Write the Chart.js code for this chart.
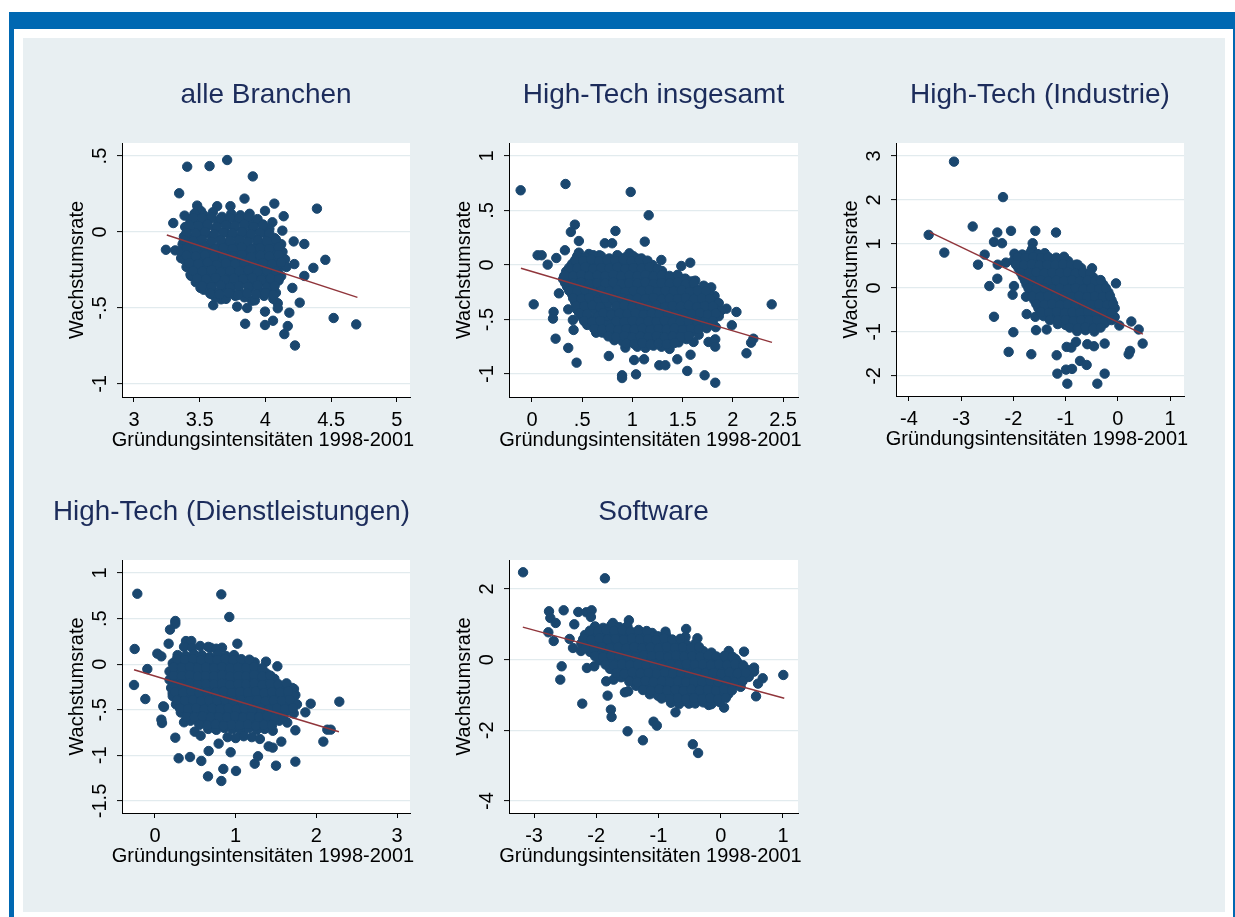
<!DOCTYPE html>
<html><head><meta charset="utf-8">
<script src="https://cdn.jsdelivr.net/npm/chart.js@4.4.1/dist/chart.umd.min.js"></script>
<style>
html,body{margin:0;padding:0;background:#fff;width:1235px;height:917px;overflow:hidden;position:relative;}
.abs{position:absolute;}
</style></head><body>
<div class="abs" style="left:9px;top:12px;width:1226px;height:17px;background:#0068b2"></div>
<div class="abs" style="left:9px;top:12px;width:5px;height:905px;background:#0068b2"></div>
<div class="abs" style="left:1233px;top:12px;width:2px;height:905px;background:#0068b2"></div>
<div class="abs" style="left:23px;top:38px;width:1202px;height:874px;background:#e8eff2"></div>
<canvas id="c1" class="abs"></canvas>
<canvas id="c2" class="abs"></canvas>
<canvas id="c3" class="abs"></canvas>
<canvas id="c4" class="abs"></canvas>
<canvas id="c5" class="abs"></canvas>
<script>
// ---------- titles ----------
const panelTitles = ['alle Branchen', 'High-Tech insgesamt', 'High-Tech (Industrie)', 'High-Tech (Dienstleistungen)', 'Software'];
const xAxisTitle = 'Gründungsintensitäten 1998-2001';
const yAxisTitle = 'Wachstumsrate';

// ---------- tick values / labels ----------
const p1XTicks = [3, 3.5, 4, 4.5, 5];           const p1XLabels = ['3', '3.5', '4', '4.5', '5'];
const p1YTicks = [-1, -0.5, 0, 0.5];            const p1YLabels = ['-1', '-.5', '0', '.5'];
const p2XTicks = [0, 0.5, 1, 1.5, 2, 2.5];      const p2XLabels = ['0', '.5', '1', '1.5', '2', '2.5'];
const p2YTicks = [-1, -0.5, 0, 0.5, 1];         const p2YLabels = ['-1', '-.5', '0', '.5', '1'];
const p3XTicks = [-4, -3, -2, -1, 0, 1];        const p3XLabels = ['-4', '-3', '-2', '-1', '0', '1'];
const p3YTicks = [-2, -1, 0, 1, 2, 3];          const p3YLabels = ['-2', '-1', '0', '1', '2', '3'];
const p4XTicks = [0, 1, 2, 3];                  const p4XLabels = ['0', '1', '2', '3'];
const p4YTicks = [-1.5, -1, -0.5, 0, 0.5, 1];   const p4YLabels = ['-1.5', '-1', '-.5', '0', '.5', '1'];
const p5XTicks = [-3, -2, -1, 0, 1];            const p5XLabels = ['-3', '-2', '-1', '0', '1'];
const p5YTicks = [-4, -2, 0, 2];                const p5YLabels = ['-4', '-2', '0', '2'];

// ---------- regression lines (endpoints) ----------
const p1Fit = [[3.25, -0.02], [4.70, -0.43]];
const p2Fit = [[-0.11, -0.03], [2.39, -0.71]];
const p3Fit = [[-3.60, 1.27], [0.48, -1.05]];
const p4Fit = [[-0.26, -0.06], [2.28, -0.74]];
const p5Fit = [[-3.18, 0.92], [1.02, -1.09]];

// ---------- scatter points [x, y] ----------
const p1Points = [
[3.405,0.430],[3.575,0.434],[3.709,0.474],[3.904,0.366],[3.344,0.255],[3.841,0.220],[4.068,0.187],[4.392,0.154],
[3.997,0.139],[4.139,0.104],[3.481,0.174],[3.385,0.108],[3.299,0.059],[3.390,0.033],[4.053,0.064],[4.129,0.009],
[4.215,-0.062],[4.296,-0.079],[3.243,-0.117],[3.314,-0.121],[4.456,-0.183],[4.365,-0.236],[4.220,-0.211],[4.296,-0.289],
[4.205,-0.368],[4.261,-0.465],[4.519,-0.566],[4.691,-0.608],[3.846,-0.604],[3.997,-0.612],[3.785,-0.491],[3.861,-0.500],
[3.899,-0.452],[4.225,-0.747],[4.144,-0.672],[4.170,-0.619],[4.182,-0.531],[4.094,-0.469],[4.094,-0.502],[3.997,-0.524],
[4.058,-0.584],[3.603,-0.482],[3.587,-0.407],[3.663,-0.443],[3.506,-0.368],[3.435,-0.289],[3.359,-0.172],[3.734,0.170],
[3.633,0.170],[3.486,0.152],[3.511,0.137],
[3.46,0.12],[3.53,0.11],[3.60,0.13],[3.67,0.10],[3.74,0.12],[3.81,0.11],[3.88,0.12],
[3.43,0.07],[3.50,0.06],[3.57,0.08],[3.64,0.07],[3.71,0.05],[3.78,0.08],[3.85,0.06],[3.92,0.07],[3.98,0.05],
[3.41,0.02],[3.48,0.01],[3.55,0.03],[3.62,0.02],[3.69,0.00],[3.76,0.03],[3.83,0.01],[3.90,0.02],[3.97,0.00],[4.03,0.02],
[3.38,-0.03],[3.45,-0.04],[3.52,-0.02],[3.59,-0.03],[3.66,-0.05],[3.73,-0.02],[3.80,-0.04],[3.87,-0.03],[3.94,-0.05],[4.01,-0.02],[4.07,-0.04],
[3.37,-0.08],[3.44,-0.09],[3.51,-0.07],[3.58,-0.08],[3.65,-0.10],[3.72,-0.07],[3.79,-0.09],[3.86,-0.08],[3.93,-0.10],[4.00,-0.07],[4.07,-0.09],[4.12,-0.08],
[3.36,-0.13],[3.43,-0.14],[3.50,-0.12],[3.57,-0.13],[3.64,-0.15],[3.71,-0.12],[3.78,-0.14],[3.85,-0.13],[3.92,-0.15],[3.99,-0.12],[4.06,-0.14],[4.13,-0.13],
[3.38,-0.18],[3.45,-0.19],[3.52,-0.17],[3.59,-0.18],[3.66,-0.20],[3.73,-0.17],[3.80,-0.19],[3.87,-0.18],[3.94,-0.20],[4.01,-0.17],[4.08,-0.19],[4.15,-0.18],
[3.40,-0.23],[3.47,-0.24],[3.54,-0.22],[3.61,-0.23],[3.68,-0.25],[3.75,-0.22],[3.82,-0.24],[3.89,-0.23],[3.96,-0.25],[4.03,-0.22],[4.10,-0.24],[4.16,-0.23],
[3.43,-0.28],[3.50,-0.29],[3.57,-0.27],[3.64,-0.28],[3.71,-0.30],[3.78,-0.27],[3.85,-0.29],[3.92,-0.28],[3.99,-0.30],[4.06,-0.27],[4.12,-0.29],
[3.47,-0.33],[3.54,-0.34],[3.61,-0.32],[3.68,-0.33],[3.75,-0.35],[3.82,-0.32],[3.89,-0.34],[3.96,-0.33],[4.03,-0.35],[4.10,-0.32],
[3.53,-0.38],[3.60,-0.39],[3.67,-0.37],[3.74,-0.38],[3.81,-0.40],[3.88,-0.37],[3.95,-0.39],[4.02,-0.38],[4.08,-0.40],
[3.62,-0.43],[3.70,-0.44],[3.77,-0.42],[3.84,-0.43],[3.92,-0.45],[3.99,-0.42],[4.06,-0.44],
[3.45,0.095],[3.52,0.09],[3.59,0.10],[3.66,0.085],[3.73,0.095],[3.80,0.09],[3.87,0.10],[3.94,0.085],
[3.42,0.045],[3.49,0.04],[3.56,0.05],[3.63,0.035],[3.70,0.045],[3.77,0.04],[3.84,0.05],[3.91,0.035],[3.98,0.045],
[3.40,-0.005],[3.47,-0.01],[3.54,0.00],[3.61,-0.015],[3.68,-0.005],[3.75,-0.01],[3.82,0.00],[3.89,-0.015],[3.96,-0.005],[4.03,-0.01],
[3.38,-0.055],[3.45,-0.06],[3.52,-0.05],[3.59,-0.065],[3.66,-0.055],[3.73,-0.06],[3.80,-0.05],[3.87,-0.065],[3.94,-0.055],[4.01,-0.06],[4.08,-0.05],
[3.40,-0.105],[3.47,-0.11],[3.54,-0.10],[3.61,-0.115],[3.68,-0.105],[3.75,-0.11],[3.82,-0.10],[3.89,-0.115],[3.96,-0.105],[4.03,-0.11],[4.10,-0.10],
[3.40,-0.155],[3.47,-0.16],[3.54,-0.15],[3.61,-0.165],[3.68,-0.155],[3.75,-0.16],[3.82,-0.15],[3.89,-0.165],[3.96,-0.155],[4.03,-0.16],[4.10,-0.15],
[3.42,-0.205],[3.49,-0.21],[3.56,-0.20],[3.63,-0.215],[3.70,-0.205],[3.77,-0.21],[3.84,-0.20],[3.91,-0.215],[3.98,-0.205],[4.05,-0.21],[4.12,-0.20],
[3.45,-0.255],[3.52,-0.26],[3.59,-0.25],[3.66,-0.265],[3.73,-0.255],[3.80,-0.26],[3.87,-0.25],[3.94,-0.265],[4.01,-0.255],[4.08,-0.26],
[3.48,-0.305],[3.55,-0.31],[3.62,-0.30],[3.69,-0.315],[3.76,-0.305],[3.83,-0.31],[3.90,-0.30],[3.97,-0.315],[4.04,-0.305],[4.10,-0.31],
[3.52,-0.355],[3.59,-0.36],[3.66,-0.35],[3.73,-0.365],[3.80,-0.355],[3.87,-0.36],[3.94,-0.35],[4.01,-0.365],[4.07,-0.355],
[3.58,-0.405],[3.65,-0.41],[3.72,-0.40],[3.79,-0.415],[3.86,-0.405],[3.93,-0.41],[4.00,-0.40],[4.06,-0.415]
];

const p2Points = [
[-0.113,0.685],[0.334,0.743],[0.983,0.670],[1.162,0.456],[0.427,0.370],[0.387,0.303],[0.467,0.220],[0.831,0.312],
[0.725,0.199],[0.798,0.199],[1.123,0.214],[0.056,0.089],[0.096,0.089],[0.156,0.003],[0.328,0.135],[0.242,0.064],
[1.288,0.046],[1.295,-0.055],[1.487,-0.009],[1.576,0.021],[0.017,-0.361],[0.268,-0.260],[0.321,-0.101],[0.215,-0.431],
[0.209,-0.492],[0.361,-0.407],[0.407,-0.505],[0.414,-0.596],[0.235,-0.676],[0.361,-0.761],[0.444,-0.896],[0.765,-0.835],
[0.897,-1.012],[0.897,-1.037],[1.036,-1.003],[1.017,-0.872],[1.116,-0.865],[1.268,-0.920],[1.328,-0.920],[1.447,-0.865],
[1.546,-0.972],[1.719,-1.012],[1.825,-1.080],[1.579,-0.823],[1.609,-0.706],[1.758,-0.706],[1.825,-0.682],[1.825,-0.749],
[2.136,-0.810],[2.182,-0.713],[2.205,-0.676],[2.387,-0.361],[1.937,-0.401],[2.036,-0.431],[1.990,-0.553],[1.785,-0.205],
[1.818,-0.284],[1.841,-0.346],[1.626,-0.144],[1.526,-0.125],[1.394,-0.162],[0.649,-0.437],[0.639,-0.621],[0.930,-0.758],
[0.566,0.101],[0.467,0.113],[0.970,0.107],[1.050,0.058],[0.672,0.089],[0.857,0.077],
[0.45,0.08],[0.53,0.07],[0.61,0.09],[0.69,0.08],[0.77,0.06],[0.85,0.09],[0.93,0.07],[1.01,0.08],[1.09,0.06],
[0.40,0.01],[0.48,0.00],[0.56,0.02],[0.64,0.01],[0.72,-0.01],[0.80,0.02],[0.88,0.00],[0.96,0.01],[1.04,-0.01],[1.12,0.02],[1.20,0.00],
[0.34,-0.06],[0.42,-0.07],[0.50,-0.05],[0.58,-0.06],[0.66,-0.08],[0.74,-0.05],[0.82,-0.07],[0.90,-0.06],[0.98,-0.08],[1.06,-0.05],[1.14,-0.07],[1.22,-0.06],[1.30,-0.08],
[0.31,-0.13],[0.39,-0.14],[0.47,-0.12],[0.55,-0.13],[0.63,-0.15],[0.71,-0.12],[0.79,-0.14],[0.87,-0.13],[0.95,-0.15],[1.03,-0.12],[1.11,-0.14],[1.19,-0.13],[1.27,-0.15],[1.35,-0.12],[1.43,-0.14],[1.51,-0.13],[1.59,-0.15],
[0.35,-0.20],[0.43,-0.21],[0.51,-0.19],[0.59,-0.20],[0.67,-0.22],[0.75,-0.19],[0.83,-0.21],[0.91,-0.20],[0.99,-0.22],[1.07,-0.19],[1.15,-0.21],[1.23,-0.20],[1.31,-0.22],[1.39,-0.19],[1.47,-0.21],[1.55,-0.20],[1.63,-0.22],[1.71,-0.19],
[0.40,-0.27],[0.48,-0.28],[0.56,-0.26],[0.64,-0.27],[0.72,-0.29],[0.80,-0.26],[0.88,-0.28],[0.96,-0.27],[1.04,-0.29],[1.12,-0.26],[1.20,-0.28],[1.28,-0.27],[1.36,-0.29],[1.44,-0.26],[1.52,-0.28],[1.60,-0.27],[1.68,-0.29],[1.76,-0.26],
[0.43,-0.34],[0.51,-0.35],[0.59,-0.33],[0.67,-0.34],[0.75,-0.36],[0.83,-0.33],[0.91,-0.35],[0.99,-0.34],[1.07,-0.36],[1.15,-0.33],[1.23,-0.35],[1.31,-0.34],[1.39,-0.36],[1.47,-0.33],[1.55,-0.35],[1.63,-0.34],[1.71,-0.36],[1.79,-0.33],[1.86,-0.35],
[0.45,-0.41],[0.53,-0.42],[0.61,-0.40],[0.69,-0.41],[0.77,-0.43],[0.85,-0.40],[0.93,-0.42],[1.01,-0.41],[1.09,-0.43],[1.17,-0.40],[1.25,-0.42],[1.33,-0.41],[1.41,-0.43],[1.49,-0.40],[1.57,-0.42],[1.65,-0.41],[1.73,-0.43],[1.81,-0.40],[1.88,-0.42],
[0.50,-0.48],[0.58,-0.49],[0.66,-0.47],[0.74,-0.48],[0.82,-0.50],[0.90,-0.47],[0.98,-0.49],[1.06,-0.48],[1.14,-0.50],[1.22,-0.47],[1.30,-0.49],[1.38,-0.48],[1.46,-0.50],[1.54,-0.47],[1.62,-0.49],[1.70,-0.48],[1.78,-0.50],[1.86,-0.47],
[0.55,-0.55],[0.63,-0.56],[0.71,-0.54],[0.79,-0.55],[0.87,-0.57],[0.95,-0.54],[1.03,-0.56],[1.11,-0.55],[1.19,-0.57],[1.27,-0.54],[1.35,-0.56],[1.43,-0.55],[1.51,-0.57],[1.59,-0.54],[1.67,-0.56],[1.75,-0.55],[1.83,-0.57],
[0.70,-0.62],[0.78,-0.63],[0.86,-0.61],[0.94,-0.62],[1.02,-0.64],[1.10,-0.61],[1.18,-0.63],[1.26,-0.62],[1.34,-0.64],[1.42,-0.61],[1.50,-0.63],[1.58,-0.62],[1.66,-0.64],
[0.82,-0.69],[0.90,-0.70],[0.98,-0.68],[1.06,-0.69],[1.14,-0.71],[1.22,-0.68],[1.30,-0.70],[1.38,-0.69],[1.46,-0.71],[1.54,-0.68],
[1.05,-0.75],[1.13,-0.76],[1.21,-0.74],[1.29,-0.75],[1.37,-0.77],
[0.43,0.045],[0.51,0.04],[0.59,0.05],[0.67,0.035],[0.75,0.045],[0.83,0.04],[0.91,0.05],[0.99,0.035],[1.07,0.045],[1.15,0.04],
[0.37,-0.025],[0.45,-0.03],[0.53,-0.02],[0.61,-0.035],[0.69,-0.025],[0.77,-0.03],[0.85,-0.02],[0.93,-0.035],[1.01,-0.025],[1.09,-0.03],[1.17,-0.02],[1.25,-0.035],
[0.33,-0.095],[0.41,-0.10],[0.49,-0.09],[0.57,-0.105],[0.65,-0.095],[0.73,-0.10],[0.81,-0.09],[0.89,-0.105],[0.97,-0.095],[1.05,-0.10],[1.13,-0.09],[1.21,-0.105],[1.29,-0.095],[1.37,-0.10],[1.45,-0.09],
[0.33,-0.165],[0.41,-0.17],[0.49,-0.16],[0.57,-0.175],[0.65,-0.165],[0.73,-0.17],[0.81,-0.16],[0.89,-0.175],[0.97,-0.165],[1.05,-0.17],[1.13,-0.16],[1.21,-0.175],[1.29,-0.165],[1.37,-0.17],[1.45,-0.16],[1.53,-0.175],[1.61,-0.165],
[0.37,-0.235],[0.45,-0.24],[0.53,-0.23],[0.61,-0.245],[0.69,-0.235],[0.77,-0.24],[0.85,-0.23],[0.93,-0.245],[1.01,-0.235],[1.09,-0.24],[1.17,-0.23],[1.25,-0.245],[1.33,-0.235],[1.41,-0.24],[1.49,-0.23],[1.57,-0.245],[1.65,-0.235],[1.73,-0.24],
[0.41,-0.305],[0.49,-0.31],[0.57,-0.30],[0.73,-0.305],[0.81,-0.31],[0.89,-0.30],[0.97,-0.315],[1.05,-0.305],[1.13,-0.31],[1.21,-0.30],[1.29,-0.315],[1.37,-0.305],[1.45,-0.31],[1.53,-0.30],[1.61,-0.315],[1.69,-0.305],[1.77,-0.31],
[0.44,-0.375],[0.52,-0.38],[0.60,-0.37],[0.68,-0.385],[0.84,-0.38],[0.92,-0.37],[1.00,-0.385],[1.08,-0.375],[1.16,-0.38],[1.24,-0.37],[1.32,-0.385],[1.40,-0.375],[1.48,-0.38],[1.56,-0.37],[1.64,-0.385],[1.72,-0.375],[1.80,-0.38],
[0.47,-0.445],[0.55,-0.45],[0.71,-0.44],[0.79,-0.455],[0.87,-0.445],[0.95,-0.45],[1.03,-0.44],[1.11,-0.455],[1.19,-0.445],[1.27,-0.45],[1.35,-0.44],[1.43,-0.455],[1.51,-0.445],[1.59,-0.45],[1.67,-0.44],[1.75,-0.455],[1.83,-0.445],
[0.52,-0.515],[0.60,-0.52],[0.68,-0.51],[0.84,-0.515],[0.92,-0.52],[1.00,-0.51],[1.08,-0.525],[1.16,-0.515],[1.24,-0.52],[1.32,-0.51],[1.40,-0.525],[1.48,-0.515],[1.56,-0.52],[1.64,-0.51],[1.72,-0.525],[1.80,-0.515],
[0.62,-0.585],[0.70,-0.59],[0.78,-0.58],[0.86,-0.595],[0.94,-0.585],[1.02,-0.59],[1.10,-0.58],[1.18,-0.595],[1.26,-0.585],[1.34,-0.59],[1.42,-0.58],[1.50,-0.595],[1.58,-0.585],[1.66,-0.59],[1.74,-0.58],
[0.76,-0.655],[0.84,-0.66],[0.92,-0.65],[1.00,-0.665],[1.08,-0.655],[1.16,-0.66],[1.24,-0.65],[1.32,-0.665],[1.40,-0.655],[1.48,-0.66],[1.56,-0.65],
[0.94,-0.72],[1.02,-0.725],[1.10,-0.715],[1.18,-0.73],[1.26,-0.72],[1.34,-0.725],[1.42,-0.715]
];

const p3Points = [
[-3.138,2.871],[-2.199,2.065],[-3.623,1.207],[-3.323,0.804],[-2.780,1.397],[-2.308,1.260],[-2.046,1.298],[-1.580,1.298],
[-1.184,1.260],[-2.372,1.047],[-2.218,1.017],[-2.550,0.758],[-2.678,0.530],[-2.301,0.530],[-2.142,0.576],[-2.308,0.211],
[-2.461,0.044],[-1.989,0.044],[-2.015,-0.154],[-1.759,-0.199],[-2.372,-0.655],[-2.001,-1.005],[-2.091,-1.453],[-1.657,-1.506],
[-1.171,-1.529],[-1.746,-0.594],[-1.580,-0.655],[-1.567,-0.959],[-1.363,-0.944],[-0.980,-1.339],[-0.890,-1.354],[-0.801,-1.225],
[-0.584,-1.278],[-0.456,-1.324],[-0.252,-1.263],[-1.158,-1.947],[-0.967,-2.175],[-0.992,-1.856],[-0.877,-1.840],[-0.724,-1.658],
[-0.597,-1.749],[-0.392,-2.175],[-0.252,-1.947],[0.208,-1.506],[0.234,-1.430],[0.476,-1.263],[0.400,-0.944],[0.259,-0.762],
[0.029,-0.853],[-0.035,0.105],[-0.494,0.447],[-1.631,1.017],[-1.644,0.880],[-1.950,0.713],[-0.801,0.530],
[-1.98,0.78],[-1.83,0.76],[-1.68,0.80],[-1.53,0.77],[-1.40,0.79],
[-2.00,0.62],[-1.85,0.60],[-1.70,0.64],[-1.55,0.61],[-1.40,0.63],[-1.25,0.60],[-1.10,0.64],[-0.95,0.61],
[-1.90,0.44],[-1.75,0.42],[-1.60,0.46],[-1.45,0.43],[-1.30,0.45],[-1.15,0.42],[-1.00,0.46],[-0.85,0.43],[-0.70,0.45],
[-1.82,0.26],[-1.67,0.24],[-1.52,0.28],[-1.37,0.25],[-1.22,0.27],[-1.07,0.24],[-0.92,0.28],[-0.77,0.25],[-0.62,0.27],[-0.47,0.24],
[-1.75,0.08],[-1.60,0.06],[-1.45,0.10],[-1.30,0.07],[-1.15,0.09],[-1.00,0.06],[-0.85,0.10],[-0.70,0.07],[-0.55,0.09],[-0.40,0.06],[-0.28,0.08],
[-1.68,-0.10],[-1.53,-0.12],[-1.38,-0.08],[-1.23,-0.11],[-1.08,-0.09],[-0.93,-0.12],[-0.78,-0.08],[-0.63,-0.11],[-0.48,-0.09],[-0.33,-0.12],[-0.18,-0.10],
[-1.60,-0.28],[-1.45,-0.30],[-1.30,-0.26],[-1.15,-0.29],[-1.00,-0.27],[-0.85,-0.30],[-0.70,-0.26],[-0.55,-0.29],[-0.40,-0.27],[-0.25,-0.30],[-0.12,-0.28],
[-1.52,-0.46],[-1.37,-0.48],[-1.22,-0.44],[-1.07,-0.47],[-0.92,-0.45],[-0.77,-0.48],[-0.62,-0.44],[-0.47,-0.47],[-0.32,-0.45],[-0.17,-0.48],[-0.06,-0.46],
[-1.42,-0.64],[-1.27,-0.66],[-1.12,-0.62],[-0.97,-0.65],[-0.82,-0.63],[-0.67,-0.66],[-0.52,-0.62],[-0.37,-0.65],[-0.22,-0.63],[-0.06,-0.66],
[-1.15,-0.82],[-1.00,-0.84],[-0.85,-0.80],[-0.70,-0.83],[-0.55,-0.81],[-0.40,-0.84],[-0.25,-0.80],
[-0.78,-0.98],[-0.62,-0.96],[-0.45,-0.99],
[-1.92,0.70],[-1.77,0.69],[-1.62,0.71],[-1.47,0.68],[-1.33,0.70],[-1.18,0.69],[-1.03,0.71],
[-1.95,0.53],[-1.80,0.52],[-1.65,0.54],[-1.50,0.51],[-1.35,0.53],[-1.20,0.52],[-1.05,0.54],[-0.90,0.51],[-0.77,0.53],
[-1.86,0.35],[-1.71,0.34],[-1.56,0.36],[-1.41,0.33],[-1.26,0.35],[-1.11,0.34],[-0.96,0.36],[-0.81,0.33],[-0.66,0.35],[-0.53,0.34],
[-1.78,0.17],[-1.63,0.16],[-1.48,0.18],[-1.33,0.15],[-1.18,0.17],[-1.03,0.16],[-0.88,0.18],[-0.73,0.15],[-0.58,0.17],[-0.44,0.16],[-0.33,0.18],
[-1.71,-0.01],[-1.56,-0.02],[-1.41,0.00],[-1.26,-0.03],[-1.11,-0.01],[-0.96,-0.02],[-0.81,0.00],[-0.66,-0.03],[-0.51,-0.01],[-0.36,-0.02],[-0.23,0.00],
[-1.64,-0.19],[-1.49,-0.20],[-1.34,-0.18],[-1.19,-0.21],[-1.04,-0.19],[-0.89,-0.20],[-0.74,-0.18],[-0.59,-0.21],[-0.44,-0.19],[-0.29,-0.20],[-0.15,-0.18],
[-1.56,-0.37],[-1.41,-0.38],[-1.26,-0.36],[-1.11,-0.39],[-0.96,-0.37],[-0.81,-0.38],[-0.66,-0.36],[-0.51,-0.39],[-0.36,-0.37],[-0.21,-0.38],[-0.09,-0.36],
[-1.47,-0.55],[-1.32,-0.56],[-1.17,-0.54],[-1.02,-0.57],[-0.87,-0.55],[-0.72,-0.56],[-0.57,-0.54],[-0.42,-0.57],[-0.27,-0.55],[-0.12,-0.56],
[-1.30,-0.73],[-1.15,-0.74],[-1.00,-0.72],[-0.85,-0.75],[-0.70,-0.73],[-0.55,-0.74],[-0.40,-0.72],[-0.25,-0.75],[-0.12,-0.73],
[-0.92,-0.90],[-0.77,-0.91],[-0.62,-0.89],[-0.47,-0.92],[-0.33,-0.90]
];

const p4Points = [
[-0.219,0.773],[0.822,0.766],[0.921,0.518],[0.252,0.474],[0.252,0.444],[0.186,0.379],[0.169,0.225],[-0.252,0.167],
[0.029,0.116],[0.079,0.086],[1.021,0.225],[0.384,0.254],[0.450,0.254],[0.690,0.181],[0.831,0.181],[-0.095,-0.053],
[-0.260,-0.228],[-0.120,-0.382],[0.103,-0.462],[0.079,-0.608],[0.087,-0.645],[0.252,-0.806],[0.293,-1.032],[0.434,-1.018],
[0.574,-1.061],[0.657,-1.230],[0.822,-1.281],[0.847,-1.149],[1.004,-1.171],[0.665,-0.952],[0.789,-0.871],[0.938,-0.966],
[1.236,-1.091],[1.277,-1.010],[1.500,-1.113],[1.740,-1.069],[2.087,-0.849],[2.136,-0.718],[2.178,-0.718],[2.285,-0.411],
[1.930,-0.433],[1.864,-0.528],[1.740,-0.725],[0.492,-0.740],[0.566,-0.784],[0.360,-0.637],[1.236,0.020],[1.376,0.028],
[1.517,-0.023],[1.723,-0.272],[1.740,-0.338],[0.112,-0.469],[0.219,-0.316],[1.409,-0.901],[1.459,-0.915],[1.566,-0.849],
[1.128,-0.045],
[0.36,0.19],[0.46,0.18],[0.56,0.20],[0.66,0.19],[0.76,0.17],
[0.28,0.10],[0.38,0.09],[0.48,0.11],[0.58,0.10],[0.68,0.08],[0.78,0.11],[0.88,0.09],[0.98,0.10],
[0.22,0.01],[0.32,0.00],[0.42,0.02],[0.52,0.01],[0.62,-0.01],[0.72,0.02],[0.82,0.00],[0.92,0.01],[1.02,-0.01],[1.12,0.02],[1.22,0.00],
[0.18,-0.08],[0.28,-0.09],[0.38,-0.07],[0.48,-0.08],[0.58,-0.10],[0.68,-0.07],[0.78,-0.09],[0.88,-0.08],[0.98,-0.10],[1.08,-0.07],[1.18,-0.09],[1.28,-0.08],[1.38,-0.10],
[0.18,-0.17],[0.28,-0.18],[0.38,-0.16],[0.48,-0.17],[0.58,-0.19],[0.68,-0.16],[0.78,-0.18],[0.88,-0.17],[0.98,-0.19],[1.08,-0.16],[1.18,-0.18],[1.28,-0.17],[1.38,-0.19],[1.48,-0.16],
[0.20,-0.26],[0.30,-0.27],[0.40,-0.25],[0.50,-0.26],[0.60,-0.28],[0.70,-0.25],[0.80,-0.27],[0.90,-0.26],[1.00,-0.28],[1.10,-0.25],[1.20,-0.27],[1.30,-0.26],[1.40,-0.28],[1.50,-0.25],[1.60,-0.27],[1.70,-0.26],
[0.22,-0.35],[0.32,-0.36],[0.42,-0.34],[0.52,-0.35],[0.62,-0.37],[0.72,-0.34],[0.82,-0.36],[0.92,-0.35],[1.02,-0.37],[1.12,-0.34],[1.22,-0.36],[1.32,-0.35],[1.42,-0.37],[1.52,-0.34],[1.62,-0.36],[1.72,-0.35],
[0.26,-0.44],[0.36,-0.45],[0.46,-0.43],[0.56,-0.44],[0.66,-0.46],[0.76,-0.43],[0.86,-0.45],[0.96,-0.44],[1.06,-0.46],[1.16,-0.43],[1.26,-0.45],[1.36,-0.44],[1.46,-0.46],[1.56,-0.43],[1.66,-0.45],[1.76,-0.44],
[0.32,-0.53],[0.42,-0.54],[0.52,-0.52],[0.62,-0.53],[0.72,-0.55],[0.82,-0.52],[0.92,-0.54],[1.02,-0.53],[1.12,-0.55],[1.22,-0.52],[1.32,-0.54],[1.42,-0.53],[1.52,-0.55],[1.62,-0.52],[1.72,-0.54],
[0.44,-0.62],[0.54,-0.63],[0.64,-0.61],[0.74,-0.62],[0.84,-0.64],[0.94,-0.61],[1.04,-0.63],[1.14,-0.62],[1.24,-0.64],[1.34,-0.61],[1.44,-0.63],[1.54,-0.62],[1.64,-0.64],
[0.66,-0.71],[0.76,-0.72],[0.86,-0.70],[0.96,-0.71],[1.06,-0.73],[1.16,-0.70],[1.26,-0.72],[1.36,-0.71],[1.46,-0.73],
[0.90,-0.80],[1.00,-0.81],[1.10,-0.79],[1.20,-0.80],[1.30,-0.82],
[0.27,0.055],[0.37,0.05],[0.47,0.06],[0.57,0.045],[0.67,0.055],[0.77,0.05],[0.87,0.06],[0.97,0.045],[1.07,0.055],[1.17,0.05],
[0.23,-0.035],[0.33,-0.04],[0.43,-0.03],[0.53,-0.045],[0.63,-0.035],[0.73,-0.04],[0.83,-0.03],[0.93,-0.045],[1.03,-0.035],[1.13,-0.04],[1.23,-0.03],[1.33,-0.045],
[0.23,-0.125],[0.33,-0.13],[0.43,-0.12],[0.53,-0.135],[0.63,-0.125],[0.73,-0.13],[0.83,-0.12],[0.93,-0.135],[1.03,-0.125],[1.13,-0.13],[1.23,-0.12],[1.33,-0.135],[1.43,-0.125],
[0.23,-0.215],[0.33,-0.22],[0.43,-0.21],[0.53,-0.225],[0.63,-0.215],[0.73,-0.22],[0.83,-0.21],[0.93,-0.225],[1.03,-0.215],[1.13,-0.22],[1.23,-0.21],[1.33,-0.225],[1.43,-0.215],[1.53,-0.22],[1.63,-0.21],
[0.25,-0.305],[0.35,-0.31],[0.45,-0.30],[0.55,-0.315],[0.65,-0.305],[0.75,-0.31],[0.85,-0.30],[0.95,-0.315],[1.05,-0.305],[1.15,-0.31],[1.25,-0.30],[1.35,-0.315],[1.45,-0.305],[1.55,-0.31],[1.65,-0.30],
[0.27,-0.395],[0.37,-0.40],[0.47,-0.39],[0.57,-0.405],[0.67,-0.395],[0.77,-0.40],[0.87,-0.39],[0.97,-0.405],[1.07,-0.395],[1.17,-0.40],[1.27,-0.39],[1.37,-0.405],[1.47,-0.395],[1.57,-0.40],[1.67,-0.39],
[0.31,-0.485],[0.41,-0.49],[0.51,-0.48],[0.61,-0.495],[0.71,-0.485],[0.81,-0.49],[0.91,-0.48],[1.01,-0.495],[1.11,-0.485],[1.21,-0.49],[1.31,-0.48],[1.41,-0.495],[1.51,-0.485],[1.61,-0.49],[1.71,-0.48],
[0.39,-0.575],[0.49,-0.58],[0.59,-0.57],[0.69,-0.585],[0.79,-0.575],[0.89,-0.58],[0.99,-0.57],[1.09,-0.585],[1.19,-0.575],[1.29,-0.58],[1.39,-0.57],[1.49,-0.585],[1.59,-0.575],
[0.55,-0.665],[0.65,-0.67],[0.75,-0.66],[0.85,-0.675],[0.95,-0.665],[1.05,-0.67],[1.15,-0.66],[1.25,-0.675],[1.35,-0.665],[1.45,-0.67]
];

const p5Points = [
[-3.176,2.472],[-1.861,2.302],[-2.759,1.368],[-2.738,1.179],[-2.652,1.038],[-2.524,1.396],[-2.353,1.000],[-2.289,1.349],
[-2.160,1.340],[-2.075,1.396],[-2.086,1.208],[-2.770,0.774],[-2.684,0.528],[-2.556,-0.189],[-2.578,-0.566],[-2.225,-1.245],
[-2.428,0.585],[-2.374,0.330],[-2.193,0.566],[-2.246,0.245],[-2.150,-0.236],[-2.032,-0.189],[-1.840,-0.613],[-1.722,-0.566],
[-1.818,-1.019],[-1.540,-0.925],[-1.765,-1.415],[-1.754,-1.623],[-1.497,-2.028],[-1.251,-2.283],[-1.080,-1.755],[-1.027,-1.868],
[-0.449,-2.396],[-0.364,-2.642],[-0.727,-1.491],[-0.556,0.868],[-0.567,0.642],[-0.375,0.604],[-0.407,0.453],[0.128,0.245],
[0.374,0.226],[0.235,0.019],[0.535,-0.226],[0.535,-0.340],[0.674,-0.528],[0.599,-0.679],[0.567,-1.038],[1.005,-0.434],
[0.364,-0.283],[-1.476,1.113],[-1.733,1.038],[-1.487,-0.896],[-1.155,-0.642],[0.053,-1.358],[-0.193,-1.283],[-0.513,-1.245],
[-0.888,0.792],[-1.102,0.755],
[-2.02,0.94],[-1.89,0.90],[-1.76,0.97],[-1.63,0.92],[-1.50,0.95],
[-2.18,0.70],[-2.05,0.66],[-1.92,0.73],[-1.79,0.68],[-1.66,0.71],[-1.53,0.66],[-1.40,0.73],[-1.27,0.68],[-1.14,0.71],[-1.01,0.66],[-0.88,0.70],
[-2.24,0.46],[-2.11,0.42],[-1.98,0.49],[-1.85,0.44],[-1.72,0.47],[-1.59,0.42],[-1.46,0.49],[-1.33,0.44],[-1.20,0.47],[-1.07,0.42],[-0.94,0.49],[-0.81,0.44],[-0.68,0.47],[-0.55,0.43],
[-2.10,0.22],[-1.97,0.18],[-1.84,0.25],[-1.71,0.20],[-1.58,0.23],[-1.45,0.18],[-1.32,0.25],[-1.19,0.20],[-1.06,0.23],[-0.93,0.18],[-0.80,0.25],[-0.67,0.20],[-0.54,0.23],[-0.41,0.18],[-0.28,0.24],[-0.15,0.20],
[-1.95,-0.02],[-1.82,-0.06],[-1.69,0.01],[-1.56,-0.04],[-1.43,-0.01],[-1.30,-0.06],[-1.17,0.01],[-1.04,-0.04],[-0.91,-0.01],[-0.78,-0.06],[-0.65,0.01],[-0.52,-0.04],[-0.39,-0.01],[-0.26,-0.06],[-0.13,0.01],[0.00,-0.04],[0.13,-0.01],[0.26,-0.05],
[-1.78,-0.26],[-1.65,-0.30],[-1.52,-0.23],[-1.39,-0.28],[-1.26,-0.25],[-1.13,-0.30],[-1.00,-0.23],[-0.87,-0.28],[-0.74,-0.25],[-0.61,-0.30],[-0.48,-0.23],[-0.35,-0.28],[-0.22,-0.25],[-0.09,-0.30],[0.04,-0.23],[0.17,-0.28],[0.30,-0.25],[0.43,-0.29],
[-1.60,-0.50],[-1.47,-0.54],[-1.34,-0.47],[-1.21,-0.52],[-1.08,-0.49],[-0.95,-0.54],[-0.82,-0.47],[-0.69,-0.52],[-0.56,-0.49],[-0.43,-0.54],[-0.30,-0.47],[-0.17,-0.52],[-0.04,-0.49],[0.09,-0.54],[0.22,-0.47],[0.35,-0.52],[0.45,-0.49],
[-1.36,-0.74],[-1.23,-0.78],[-1.10,-0.71],[-0.97,-0.76],[-0.84,-0.73],[-0.71,-0.78],[-0.58,-0.71],[-0.45,-0.76],[-0.32,-0.73],[-0.19,-0.78],[-0.06,-0.71],[0.07,-0.76],[0.20,-0.73],[0.32,-0.77],
[-1.14,-0.98],[-1.01,-1.02],[-0.88,-0.95],[-0.75,-1.00],[-0.62,-0.97],[-0.49,-1.02],[-0.36,-0.95],[-0.23,-1.00],[-0.10,-0.97],[0.03,-1.02],[0.12,-0.98],
[-0.80,-1.22],[-0.67,-1.26],[-0.54,-1.19],[-0.41,-1.24],[-0.28,-1.21],[-0.15,-1.26],[-0.02,-1.20],
[-2.10,0.82],[-1.97,0.80],[-1.84,0.84],[-1.71,0.81],[-1.58,0.83],[-1.45,0.80],[-1.32,0.84],[-1.19,0.81],
[-2.21,0.58],[-2.08,0.56],[-1.95,0.60],[-1.82,0.57],[-1.69,0.59],[-1.56,0.56],[-1.43,0.60],[-1.30,0.57],[-1.17,0.59],[-1.04,0.56],[-0.91,0.60],[-0.78,0.57],[-0.65,0.59],
[-2.17,0.34],[-2.04,0.32],[-1.91,0.36],[-1.78,0.33],[-1.65,0.35],[-1.52,0.32],[-1.39,0.36],[-1.26,0.33],[-1.13,0.35],[-1.00,0.32],[-0.87,0.36],[-0.74,0.33],[-0.61,0.35],[-0.48,0.32],[-0.35,0.36],
[-2.02,0.10],[-1.89,0.08],[-1.76,0.12],[-1.63,0.09],[-1.50,0.11],[-1.37,0.08],[-1.24,0.12],[-1.11,0.09],[-0.98,0.11],[-0.85,0.08],[-0.72,0.12],[-0.59,0.09],[-0.46,0.11],[-0.33,0.08],[-0.20,0.12],[-0.07,0.09],[0.06,0.11],[0.19,0.08],
[-1.85,-0.14],[-1.72,-0.16],[-1.59,-0.12],[-1.46,-0.15],[-1.33,-0.13],[-1.20,-0.16],[-1.07,-0.12],[-0.94,-0.15],[-0.81,-0.13],[-0.68,-0.16],[-0.55,-0.12],[-0.42,-0.15],[-0.29,-0.13],[-0.16,-0.16],[-0.03,-0.12],[0.10,-0.15],[0.23,-0.13],[0.36,-0.16],
[-1.68,-0.38],[-1.55,-0.40],[-1.42,-0.36],[-1.29,-0.39],[-1.16,-0.37],[-1.03,-0.40],[-0.90,-0.36],[-0.77,-0.39],[-0.64,-0.37],[-0.51,-0.40],[-0.38,-0.36],[-0.25,-0.39],[-0.12,-0.37],[0.01,-0.40],[0.14,-0.36],[0.27,-0.39],[0.40,-0.37],
[-1.47,-0.62],[-1.34,-0.64],[-1.21,-0.60],[-1.08,-0.63],[-0.95,-0.61],[-0.82,-0.64],[-0.69,-0.60],[-0.56,-0.63],[-0.43,-0.61],[-0.30,-0.64],[-0.17,-0.60],[-0.04,-0.63],[0.09,-0.61],[0.22,-0.64],[0.35,-0.61],
[-1.25,-0.86],[-1.12,-0.88],[-0.99,-0.84],[-0.86,-0.87],[-0.73,-0.85],[-0.60,-0.88],[-0.47,-0.84],[-0.34,-0.87],[-0.21,-0.85],[-0.08,-0.88],[0.05,-0.84],[0.18,-0.87],
[-0.95,-1.10],[-0.82,-1.12],[-0.69,-1.08],[-0.56,-1.11],[-0.43,-1.09],[-0.30,-1.12],[-0.17,-1.08],[-0.04,-1.11],[0.08,-1.09]
];

// ---------- rendering ----------
const FONT = "'Liberation Sans', Arial, Helvetica, sans-serif";
const DOT = '#1a476f', FITC = '#90353b', TITLEC = '#1c2c5b', GRIDC = '#e2ebee';

function measureWidest(labels) {
  const c = document.createElement('canvas').getContext('2d');
  c.font = '20px ' + FONT;
  return Math.max(...labels.map(t => c.measureText(t).width));
}

const plotBg = {
  id: 'plotBg',
  beforeDraw(chart) {
    const {ctx, chartArea: a} = chart;
    ctx.save(); ctx.fillStyle = '#ffffff';
    ctx.fillRect(a.left, a.top, a.right - a.left, a.bottom - a.top);
    ctx.restore();
  }
};

// x-axis title drawn unsqueezed (wider than the plot region, as in the original)
const xTitle = {
  id: 'xTitle',
  afterDraw(chart) {
    const {ctx, chartArea: a} = chart;
    ctx.save();
    ctx.font = '20px ' + FONT; ctx.fillStyle = '#000';
    ctx.textAlign = 'center'; ctx.textBaseline = 'middle';
    ctx.fillText(xAxisTitle, (a.left + a.right) / 2 - 3, a.bottom + 43);
    ctx.restore();
  }
};

function panel(id, p) {
  const [L, T, R, B] = p.area;
  const Yw = p.yw || 60;
  const W = Yw + (R - L) + 10, H = 80 + (B - T) + 60;
  const cv = document.getElementById(id);
  cv.width = W; cv.height = H;
  Object.assign(cv.style, {left: (L - Yw) + 'px', top: (T - 80) + 'px', width: W + 'px', height: H + 'px'});
  const widest = measureWidest(p.yLabels);
  new Chart(cv, {
    type: 'scatter',
    data: {datasets: [
      {data: p.fit.map(([x, y]) => ({x, y})), showLine: true, borderColor: FITC, borderWidth: 1.5,
       pointRadius: 0, pointHoverRadius: 0, fill: false},
      {data: p.points.map(([x, y]) => ({x, y})), backgroundColor: DOT, borderColor: DOT, borderWidth: 1,
       pointRadius: 4.7, pointHoverRadius: 4.7}
    ]},
    options: {
      responsive: false, animation: false, devicePixelRatio: 1, events: [],
      layout: {padding: {left: 0, right: 10, top: 0, bottom: 0}},
      plugins: {
        legend: {display: false}, tooltip: {enabled: false},
        title: {display: true, text: p.title, color: TITLEC,
          font: {family: FONT, size: 28, weight: 'normal', lineHeight: 1.2},
          padding: {top: 15.7, bottom: 30.7},
          fullSize: !!p.titleStart, align: p.titleStart ? 'start' : 'center'}
      },
      scales: {
        x: {type: 'linear', position: 'bottom', min: p.xr[0], max: p.xr[1],
          afterBuildTicks: s => { s.ticks = p.xTicks.map(v => ({value: v})); },
          afterFit: s => { s.height = 60; },
          ticks: {callback: (v, i) => p.xLabels[i], color: '#000', font: {family: FONT, size: 20},
            padding: 6, maxRotation: 0, minRotation: 0, autoSkip: false},
          grid: {drawOnChartArea: false, drawTicks: true, tickLength: 5, tickColor: '#000', tickWidth: 1},
          border: {display: true, color: '#000', width: 1},
          title: {display: false}},
        y: {type: 'linear', position: 'left', min: p.yr[0], max: p.yr[1],
          afterBuildTicks: s => { s.ticks = p.yTicks.map(v => ({value: v})); },
          afterFit: s => { s.width = Yw; },
          ticks: {callback: (v, i) => p.yLabels[i], color: '#000', font: {family: FONT, size: 20},
            padding: 17 - widest / 2, minRotation: 90, maxRotation: 90, crossAlign: 'center', autoSkip: false},
          grid: {drawOnChartArea: true, color: GRIDC, lineWidth: 1.2, drawTicks: true, tickLength: 5, tickColor: '#000', tickWidth: 1},
          border: {display: true, color: '#000', width: 1},
          title: {display: true, text: yAxisTitle, color: '#000', font: {family: FONT, size: 20},
            padding: {top: Yw - 57, bottom: 0}}}
      }
    },
    plugins: [plotBg, xTitle]
  });
}

panel('c1', {area: [122, 143, 410, 397], title: panelTitles[0], xr: [2.909, 5.1], yr: [-1.086, 0.586],
  xTicks: p1XTicks, xLabels: p1XLabels, yTicks: p1YTicks, yLabels: p1YLabels, points: p1Points, fit: p1Fit});
panel('c2', {area: [509, 143, 798, 397], title: panelTitles[1], xr: [-0.229, 2.649], yr: [-1.211, 1.119],
  xTicks: p2XTicks, xLabels: p2XLabels, yTicks: p2YTicks, yLabels: p2YLabels, points: p2Points, fit: p2Fit});
panel('c3', {area: [896, 143, 1184, 396], title: panelTitles[2], xr: [-4.249, 1.268], yr: [-2.455, 3.295],
  xTicks: p3XTicks, xLabels: p3XLabels, yTicks: p3YTicks, yLabels: p3YLabels, points: p3Points, fit: p3Fit});
panel('c4', {area: [122, 560, 410, 813], yw: 69, titleStart: true, title: panelTitles[3], xr: [-0.409, 3.161], yr: [-1.632, 1.143],
  xTicks: p4XTicks, xLabels: p4XLabels, yTicks: p4YTicks, yLabels: p4YLabels, points: p4Points, fit: p4Fit});
panel('c5', {area: [509, 560, 798, 813], title: panelTitles[4], xr: [-3.402, 1.241], yr: [-4.34, 2.82],
  xTicks: p5XTicks, xLabels: p5XLabels, yTicks: p5YTicks, yLabels: p5YLabels, points: p5Points, fit: p5Fit});
</script>
</body></html>
